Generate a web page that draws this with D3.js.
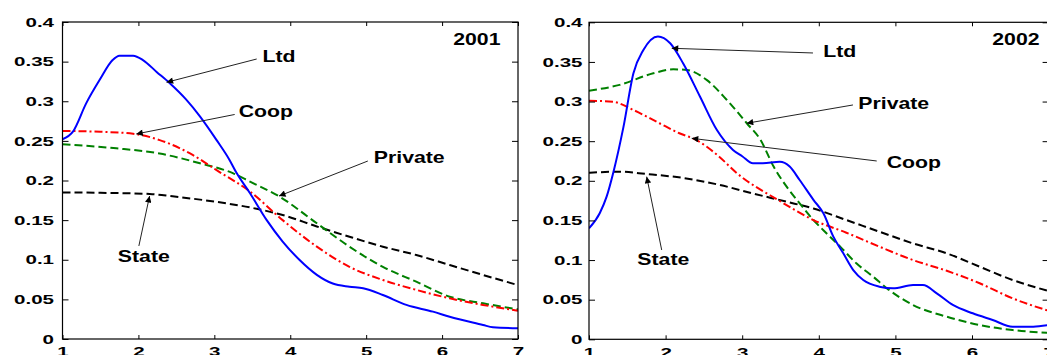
<!DOCTYPE html>
<html><head><meta charset="utf-8">
<script src="https://cdn.jsdelivr.net/npm/d3@7"></script>
<style>html,body{margin:0;padding:0;background:#fff;overflow:hidden}</style>
</head><body><svg id="c" width="1047" height="355"></svg>
<script>
// ---- data ----
const xTicks = [1,2,3,4,5,6,7];
const yTicks = [0,0.05,0.1,0.15,0.2,0.25,0.3,0.35,0.4];
const yTickLabels = ["0","0.05","0.1","0.15","0.2","0.25","0.3","0.35","0.4"];
const years = ["2001","2002"];
const seriesNames = ["Ltd","Coop","Private","State"];

const ltd2001 = [[1,0.252],[1.14,0.262],[1.31,0.297],[1.49,0.327],[1.66,0.352],[1.75,0.3575],[1.93,0.3575],[2.06,0.352],[2.24,0.337],[2.41,0.323],[2.63,0.302],[2.81,0.281],[3.03,0.251],[3.2,0.226],[3.29,0.21],[3.47,0.184],[3.69,0.150],[3.9,0.123],[4.12,0.100],[4.35,0.081],[4.56,0.070],[4.78,0.066],[4.96,0.064],[5.22,0.0555],[5.53,0.043],[5.88,0.0345],[6.1,0.028],[6.54,0.0177],[6.67,0.0147],[7,0.0135]];
const coop2001 = [[1,0.2625],[1.5,0.2615],[1.93,0.259],[2.28,0.251],[2.72,0.232],[3.03,0.213],[3.47,0.186],[3.9,0.150],[4.35,0.1165],[4.78,0.091],[5.22,0.0745],[5.66,0.062],[6.1,0.0513],[6.54,0.043],[7,0.0357]];
const private2001 = [[1,0.2457],[1.71,0.2406],[2.28,0.234],[2.81,0.2217],[3.25,0.209],[3.47,0.1985],[3.86,0.1796],[4.35,0.146],[4.78,0.1165],[5.22,0.091],[5.66,0.0723],[6.1,0.0534],[6.54,0.045],[7,0.0374]];
const state2001 = [[1,0.185],[1.5,0.1845],[2.15,0.183],[2.45,0.180],[3.03,0.173],[3.47,0.166],[3.9,0.1565],[4.35,0.142],[4.78,0.129],[5.22,0.1165],[5.66,0.106],[6.1,0.0934],[6.54,0.0808],[7,0.068]];

const ltd2002 = [[1,0.140],[1.14,0.159],[1.23,0.18],[1.32,0.2115],[1.45,0.268],[1.58,0.3357],[1.71,0.365],[1.9,0.382],[2.06,0.3735],[2.23,0.348],[2.45,0.306],[2.67,0.264],[2.88,0.239],[3.0,0.231],[3.14,0.222],[3.27,0.222],[3.49,0.224],[3.62,0.218],[3.75,0.201],[3.93,0.176],[4.06,0.159],[4.19,0.1295],[4.32,0.1085],[4.45,0.0874],[4.58,0.0748],[4.79,0.0664],[4.97,0.0643],[5.23,0.0685],[5.36,0.0685],[5.54,0.058],[5.75,0.0433],[6.01,0.0328],[6.27,0.0244],[6.53,0.0159],[6.8,0.0159],[7,0.018]];
const private2002 = [[1,0.3137],[1.4,0.321],[1.84,0.3357],[2.1,0.3407],[2.28,0.3398],[2.54,0.327],[2.8,0.302],[3.06,0.2726],[3.24,0.2515],[3.41,0.218],[3.58,0.1926],[3.75,0.1716],[3.93,0.1505],[4.10,0.1338],[4.28,0.1169],[4.49,0.0959],[4.71,0.079],[4.89,0.0643],[5.23,0.0433],[5.67,0.0285],[6.1,0.018],[6.53,0.0117],[7,0.008]];
const coop2002 = [[1,0.301],[1.31,0.2998],[1.58,0.2893],[1.92,0.2726],[2.18,0.26],[2.4,0.2515],[2.7,0.2304],[2.92,0.2105],[3.49,0.1745],[3.93,0.1505],[4.36,0.1345],[4.79,0.117],[5.23,0.1],[5.67,0.0865],[6.1,0.0707],[6.53,0.0517],[7,0.036]];
const state2002 = [[1,0.2102],[1.4,0.2115],[1.75,0.2086],[2.27,0.203],[2.71,0.1947],[3.14,0.184],[3.58,0.1736],[3.93,0.165],[4.36,0.1505],[4.79,0.1358],[5.23,0.121],[5.67,0.1085],[6.1,0.0916],[6.53,0.0748],[7,0.061]];

// annotations: [label, textX, textY, lineStartX, lineStartY, tipX, tipY] in data units
const notes2001 = [["Ltd",3.634,0.350,3.558,0.3533,2.371,0.3239],["Coop",3.321,0.2797,3.268,0.2833,1.972,0.2587],["Private",5.101,0.2221,5.022,0.2246,3.852,0.1804],["State",1.729,0.0972,2.006,0.1174,2.147,0.1804]];
const notes2002 = [["Ltd",4.059,0.3558,3.924,0.3613,2.080,0.3672],["Private",4.516,0.2902,4.446,0.2957,3.059,0.2726],["Coop",4.886,0.2158,4.756,0.225,2.341,0.2536],["State",1.631,0.0938,1.949,0.1127,1.753,0.2052]];
const yearPos = [[6.147,0.371],[6.265,0.3713]];

// ---- drawing ----
const svg = d3.select("#c");
const FONT = "'Liberation Sans', Arial, sans-serif";
const defs = svg.append("defs");
defs.append("marker").attr("id","arr").attr("viewBox","0 0 10 10")
  .attr("refX",10).attr("refY",5).attr("markerWidth",9).attr("markerHeight",6.5)
  .attr("markerUnits","userSpaceOnUse").attr("orient","auto")
  .append("path").attr("d","M0,0 L10,5 L0,10 z").attr("fill","#000");

const styles = {
  Ltd:{color:"#0000ff",dash:null,w:2},
  Coop:{color:"#ff0000",dash:"8,3,2,3",w:2},
  Private:{color:"#008000",dash:"8,4",w:2},
  State:{color:"#000000",dash:"8,4",w:2}
};

const panels = [
  {x0:62.5,x1:518,y0:339,y1:22,pad:8.5,series:{Ltd:ltd2001,Coop:coop2001,Private:private2001,State:state2001},notes:notes2001,year:years[0],yp:yearPos[0]},
  {x0:589,x1:1048.6,y0:339.3,y1:22.3,pad:6.5,series:{Ltd:ltd2002,Coop:coop2002,Private:private2002,State:state2002},notes:notes2002,year:years[1],yp:yearPos[1]}
];

const TSX = 1.58, LSX = 1.25;

panels.forEach((p,i)=>{
  const x = d3.scaleLinear().domain([1,7]).range([p.x0,p.x1]);
  const y = d3.scaleLinear().domain([0,0.4]).range([p.y0,p.y1]);
  const g = svg.append("g");
  const cid = "clip"+i;
  defs.append("clipPath").attr("id",cid).append("rect")
    .attr("x",p.x0).attr("y",p.y1).attr("width",p.x1-p.x0).attr("height",p.y0-p.y1);

  const plot = g.append("g").attr("clip-path",`url(#${cid})`);
  const line = d3.line().x(d=>x(d[0])).y(d=>y(d[1])).curve(d3.curveMonotoneX);
  ["State","Private","Coop","Ltd"].forEach(n=>{
    const s = styles[n];
    plot.append("path").datum(p.series[n]).attr("d",line)
      .attr("fill","none").attr("stroke",s.color).attr("stroke-width",s.w)
      .attr("stroke-dasharray",s.dash).attr("stroke-linejoin","round");
  });

  // axes
  const ax = g.append("g").attr("transform",`translate(0,${p.y0})`)
    .call(d3.axisBottom(x).tickValues(xTicks).tickSize(-4).tickPadding(8).tickFormat(d3.format("d")));
  const ay = g.append("g").attr("transform",`translate(${p.x0},0)`)
    .call(d3.axisLeft(y).tickValues(yTicks).tickSize(-6).tickPadding(p.pad).tickFormat((d,k)=>yTickLabels[k]));
  g.append("g").attr("transform",`translate(0,${p.y1})`)
    .call(d3.axisTop(x).tickValues(xTicks).tickSize(-4).tickFormat(""));
  g.append("g").attr("transform",`translate(${p.x1},0)`)
    .call(d3.axisRight(y).tickValues(yTicks).tickSize(-6).tickFormat(""));
  g.selectAll(".domain").remove();
  g.selectAll(".tick line").attr("stroke","#000").attr("stroke-width",1);
  [ax,ay].forEach(a=>a.selectAll("text").attr("font-family",FONT).attr("font-weight","bold")
      .attr("font-size",13).attr("fill","#000"));
  ax.selectAll("text").attr("transform",`scale(${TSX},1)`);
  ay.selectAll("text").attr("x",-p.pad/TSX).attr("transform",`scale(${TSX},1)`);

  g.append("rect").attr("x",p.x0).attr("y",p.y1).attr("width",p.x1-p.x0).attr("height",p.y0-p.y1)
    .attr("fill","none").attr("stroke","#000").attr("stroke-width",1.2);

  // annotations
  p.notes.forEach(nt=>{
    g.append("line").attr("x1",x(nt[3])).attr("y1",y(nt[4])).attr("x2",x(nt[5])).attr("y2",y(nt[6]))
      .attr("stroke","#222").attr("stroke-width",1).attr("marker-end","url(#arr)");
    g.append("text").attr("transform",`translate(${x(nt[1])},${y(nt[2])}) scale(${LSX},1)`)
      .attr("font-family",FONT).attr("font-weight","bold").attr("font-size",17).text(nt[0]);
  });
  g.append("text").attr("transform",`translate(${x(p.yp[0])},${y(p.yp[1])}) scale(${LSX},1)`)
    .attr("font-family",FONT).attr("font-weight","bold").attr("font-size",17).text(p.year);
});
</script></body></html>
